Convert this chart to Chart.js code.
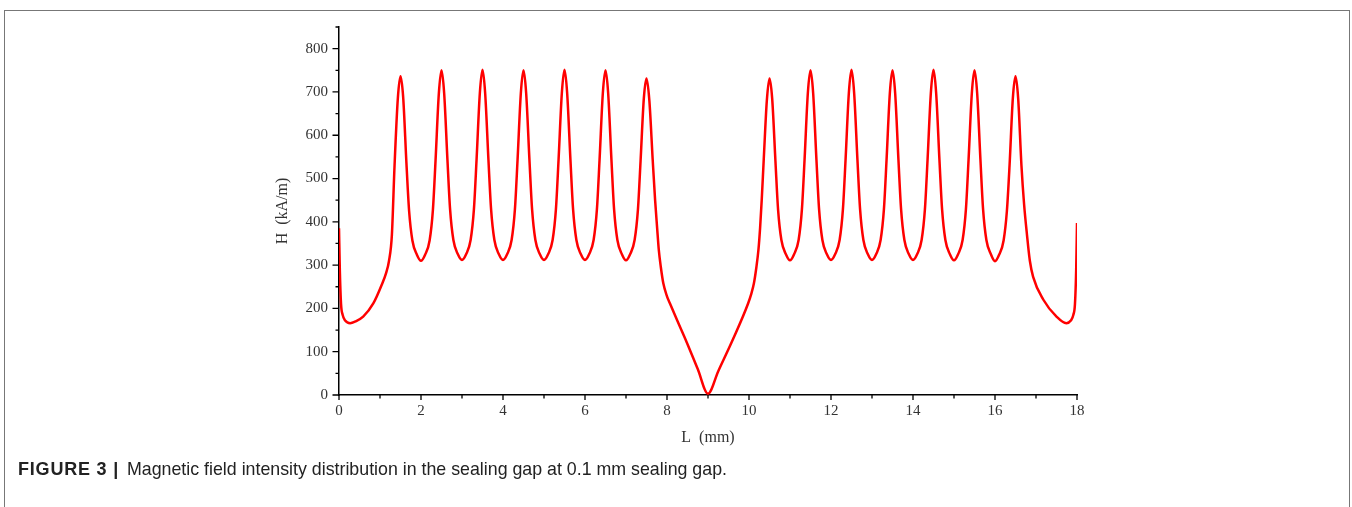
<!DOCTYPE html>
<html>
<head>
<meta charset="utf-8">
<script src="https://cdn.jsdelivr.net/npm/chart.js@4.4.1/dist/chart.umd.min.js"></script>
<style>
  body { margin: 0; background: #fff; }
  #frame { position: absolute; left: 4px; top: 10px; width: 1344px; height: 520px;
           border: 1.5px solid #777; border-bottom: none; }
  #wrap { position: absolute; left: 0; top: 0; width: 1352px; height: 507px; }
  #caption { position: absolute; left: 18px; top: 459px; font-family: "Liberation Sans Narrow", "Liberation Sans", sans-serif;
             font-size: 17.8px; color: #222; white-space: nowrap; }
  #caption b { font-size: 18px; font-weight: bold; letter-spacing: 0.8px; margin-right: 3px; }
</style>
</head>
<body>
<div id="frame"></div>
<div id="wrap"><canvas id="chart-h" width="1352" height="507"></canvas></div>
<div id="caption"><b>FIGURE 3 |</b> Magnetic field intensity distribution in the sealing gap at 0.1 mm sealing gap.</div>
<script>
// L (mm) positions
const L_MM = [
    0, 0.02, 0.05, 0.09, 0.15, 0.27, 0.4, 0.59, 0.84, 1.04, 1.15, 1.22, 1.29, 1.355, 1.435, 1.5,
    1.565, 1.645, 1.71, 1.79, 1.9, 2.0, 2.1, 2.21, 2.29, 2.355, 2.435, 2.5,
    2.565, 2.645, 2.71, 2.79, 2.9, 3.0, 3.1, 3.21, 3.29, 3.355, 3.435, 3.5,
    3.565, 3.645, 3.71, 3.79, 3.9, 4.0, 4.1, 4.21, 4.29, 4.355, 4.435, 4.5,
    4.565, 4.645, 4.71, 4.79, 4.9, 5.0, 5.1, 5.21, 5.29, 5.355, 5.435, 5.5,
    5.565, 5.645, 5.71, 5.79, 5.9, 6.0, 6.1, 6.21, 6.29, 6.355, 6.435, 6.5,
    6.565, 6.645, 6.71, 6.79, 6.9, 7.0, 7.1, 7.21, 7.29, 7.355, 7.435, 7.5,
    7.57, 7.65, 7.71, 7.76, 7.8, 7.85, 7.91, 8.0, 8.07, 8.25, 8.48, 8.75, 9.0,
    9.25, 9.62, 9.98, 10.05, 10.12, 10.18, 10.23, 10.27, 10.31, 10.36, 10.435, 10.5,
    10.565, 10.645, 10.71, 10.79, 10.9, 11.0, 11.1, 11.21, 11.29, 11.355, 11.435, 11.5,
    11.565, 11.645, 11.71, 11.79, 11.9, 12.0, 12.1, 12.21, 12.29, 12.355, 12.435, 12.5,
    12.565, 12.645, 12.71, 12.79, 12.9, 13.0, 13.1, 13.21, 13.29, 13.355, 13.435, 13.5,
    13.565, 13.645, 13.71, 13.79, 13.9, 14.0, 14.1, 14.21, 14.29, 14.355, 14.435, 14.5,
    14.565, 14.645, 14.71, 14.79, 14.9, 15.0, 15.1, 15.21, 15.29, 15.355, 15.435, 15.5,
    15.565, 15.645, 15.71, 15.79, 15.9, 16.0, 16.1, 16.21, 16.29, 16.355, 16.435, 16.5,
    16.565, 16.645, 16.71, 16.78, 16.85, 16.93, 17.18, 17.5, 17.74, 17.85, 17.91, 17.95, 17.98, 18.0
];

// H (kA/m) at those positions
const H_KAM = [
    385, 290, 210, 185, 172, 166, 170, 181, 212, 254, 282, 310, 370, 530, 685, 736,
    688, 535, 425, 357, 324, 310, 324, 357, 427, 542, 696, 750,
    697, 543, 428, 358, 325, 312, 325, 358, 428, 543, 697, 751,
    697, 543, 428, 358, 325, 312, 325, 358, 428, 543, 697, 750,
    697, 543, 428, 358, 325, 312, 325, 358, 428, 543, 697, 751,
    697, 543, 428, 358, 325, 312, 325, 358, 428, 543, 697, 750,
    697, 543, 428, 358, 325, 311, 325, 358, 427, 540, 685, 731,
    680, 545, 450, 385, 335, 295, 258, 228, 212, 172, 122, 60, 3,
    55, 131, 212, 232, 258, 295, 335, 385, 450, 545, 680, 731,
    685, 540, 427, 358, 325, 311, 325, 358, 428, 543, 697, 750,
    697, 543, 428, 358, 325, 312, 325, 358, 428, 543, 697, 751,
    697, 543, 428, 358, 325, 312, 325, 358, 428, 543, 697, 750,
    697, 543, 428, 358, 325, 312, 325, 358, 428, 543, 697, 751,
    697, 543, 428, 358, 325, 311, 325, 358, 428, 543, 697, 750,
    697, 543, 428, 358, 325, 309, 324, 357, 425, 530, 685, 736,
    685, 530, 440, 370, 310, 273, 220, 181, 166, 172, 185, 210, 290, 397
];

const X_TICKS = [0, 2, 4, 6, 8, 10, 12, 14, 16, 18];
const X_MINOR = [1, 3, 5, 7, 9, 11, 13, 15, 17];
const Y_TICKS = [0, 100, 200, 300, 400, 500, 600, 700, 800];
const Y_MINOR = [50, 150, 250, 350, 450, 550, 650, 750, 850];

const SERIF = '"Liberation Serif", "DejaVu Serif", serif';

// tick marks drawn outward, long for majors and short for minors
const tickMarks = {
    id: 'tickMarks',
    afterDraw(chart) {
        const { ctx, scales: { x, y } } = chart;
        const base = y.getPixelForValue(0);
        const left = x.getPixelForValue(0);
        ctx.save();
        ctx.strokeStyle = '#000';
        ctx.lineWidth = 1.3;
        ctx.beginPath();
        X_TICKS.concat(X_MINOR).forEach(v => {
            const px = x.getPixelForValue(v);
            const len = X_TICKS.includes(v) ? 5 : 3.5;
            ctx.moveTo(px, base);
            ctx.lineTo(px, base + len);
        });
        Y_TICKS.concat(Y_MINOR).forEach(v => {
            const py = y.getPixelForValue(v);
            const len = Y_TICKS.includes(v) ? 6.5 : 3.5;
            ctx.moveTo(left, py);
            ctx.lineTo(left - len, py);
        });
        ctx.stroke();
        ctx.restore();
    }
};

new Chart(document.getElementById('chart-h'), {
    type: 'line',
    data: {
        datasets: [{
            data: L_MM.map((l, i) => ({ x: l, y: H_KAM[i] })),
            borderColor: '#ff0000',
            borderWidth: 2.5,
            pointRadius: 0,
            fill: false,
            cubicInterpolationMode: 'monotone'
        }]
    },
    options: {
        responsive: false,
        animation: false,
        layout: { padding: { left: 259, right: 275, top: 27, bottom: 52 } },
        plugins: { legend: { display: false }, tooltip: { enabled: false } },
        scales: {
            x: {
                type: 'linear',
                min: 0,
                max: 18,
                afterBuildTicks: s => { s.ticks = X_TICKS.map(v => ({ value: v })); },
                afterFit: s => { s.height = 60; },
                grid: { display: false, drawTicks: false },
                border: { display: true, color: '#000', width: 1.5 },
                ticks: { padding: 7, color: '#333', maxRotation: 0, font: { family: SERIF, size: 15 } },
                title: { display: true, text: 'L\u2002(mm)', color: '#333', padding: { top: 0, bottom: 8 },
                         font: { family: SERIF, size: 16 } }
            },
            y: {
                min: 0,
                max: 850,
                afterBuildTicks: s => { s.ticks = Y_TICKS.map(v => ({ value: v })); },
                afterFit: s => { s.width = 80; },
                grid: { display: false, drawTicks: false },
                border: { display: true, color: '#000', width: 1.5 },
                ticks: { padding: 11, color: '#333', font: { family: SERIF, size: 15 } },
                title: { display: true, text: 'H\u2002(kA/m)', color: '#333', padding: { top: 14, bottom: 0 },
                         font: { family: SERIF, size: 16 } }
            }
        }
    },
    plugins: [tickMarks]
});
</script>
</body>
</html>
